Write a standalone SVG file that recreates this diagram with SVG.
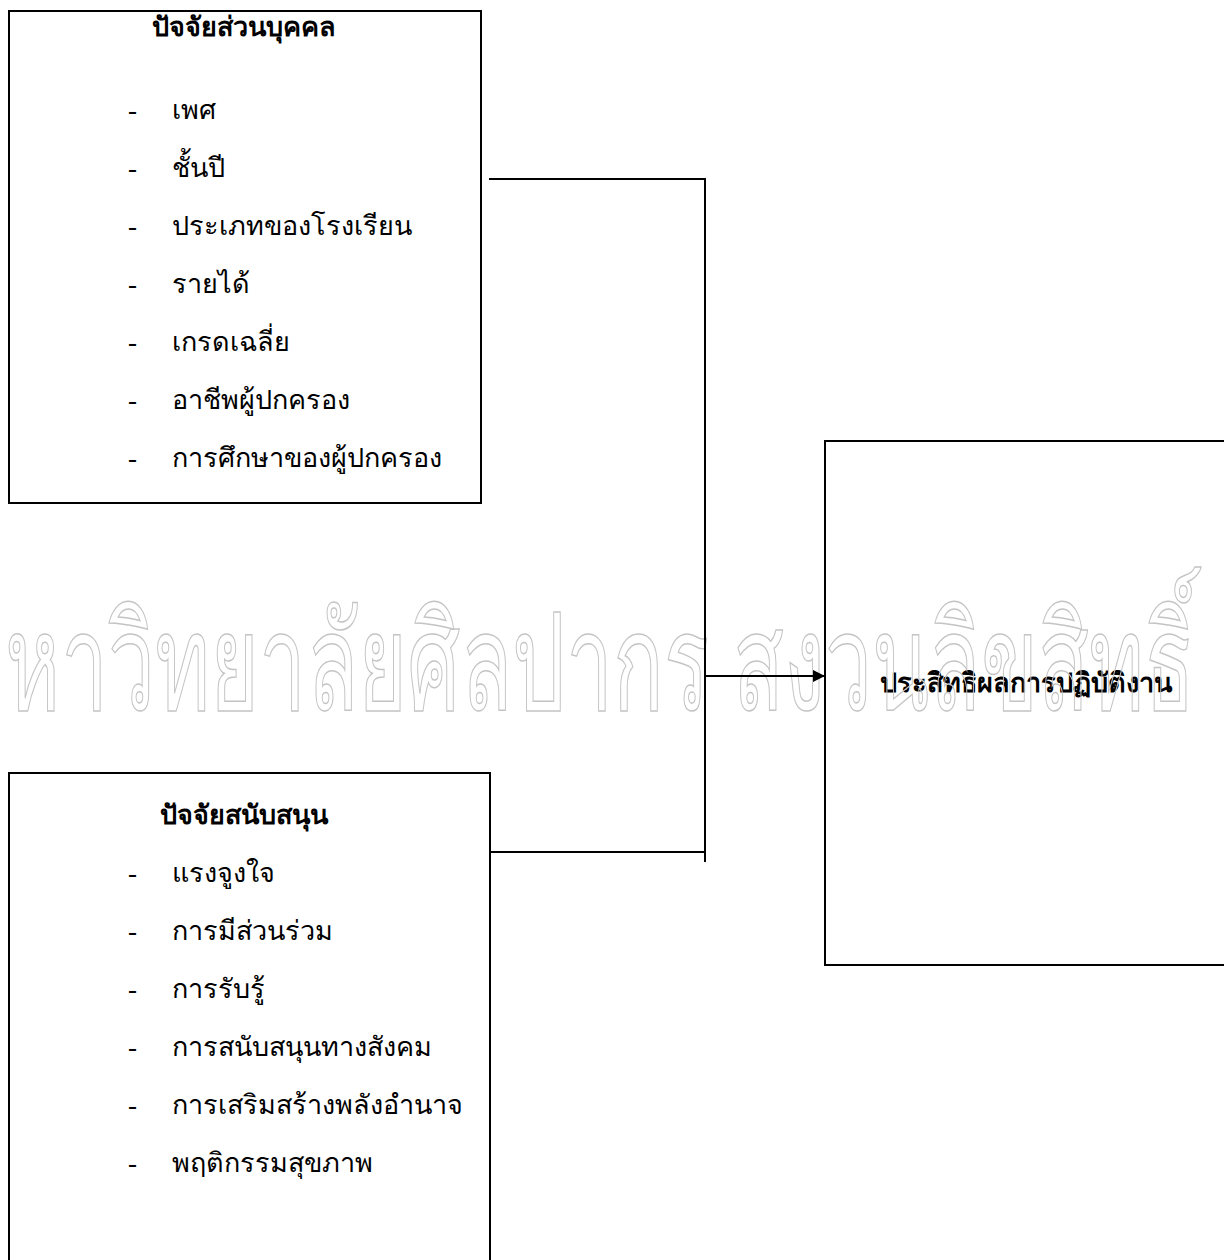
<svg xmlns="http://www.w3.org/2000/svg" width="1224" height="1260" viewBox="0 0 1224 1260">
<style>
.box{fill:#fff;stroke:#000;stroke-width:2}
.t{font-family:"Liberation Serif","Noto Sans","DejaVu Sans",serif;font-size:27px;fill:#000}
.b{font-weight:bold}
.wm{font-family:"Liberation Sans","Noto Sans","DejaVu Sans",sans-serif;font-size:135px;fill:none;stroke:#c4c4c4;stroke-width:1.5}
.c{fill:none;stroke:#000;stroke-width:2}
</style>
<defs>
<marker id="ah" viewBox="0 0 12 12" refX="12" refY="6" markerWidth="14" markerHeight="12" markerUnits="userSpaceOnUse" orient="auto"><path d="M0,0L12,6L0,12z" fill="#000"/></marker>
</defs>
<g id="n1">
<rect class="box" x="9" y="11" width="472" height="492"/>
<text class="t b" x="244" y="36" text-anchor="middle">ปัจจัยส่วนบุคคล</text>
<text class="t" x="128" y="119">-</text><text class="t" x="172" y="119">เพศ</text>
<text class="t" x="128" y="177">-</text><text class="t" x="172" y="177">ชั้นปี</text>
<text class="t" x="128" y="235">-</text><text class="t" x="172" y="235">ประเภทของโรงเรียน</text>
<text class="t" x="128" y="293">-</text><text class="t" x="172" y="293">รายได้</text>
<text class="t" x="128" y="351">-</text><text class="t" x="172" y="351">เกรดเฉลี่ย</text>
<text class="t" x="128" y="409">-</text><text class="t" x="172" y="409">อาชีพผู้ปกครอง</text>
<text class="t" x="128" y="467">-</text><text class="t" x="172" y="467">การศึกษาของผู้ปกครอง</text>
</g>
<g id="n2">
<rect class="box" x="9" y="773" width="481" height="500"/>
<text class="t b" x="244" y="824" text-anchor="middle">ปัจจัยสนับสนุน</text>
<text class="t" x="128" y="882">-</text><text class="t" x="172" y="882">แรงจูงใจ</text>
<text class="t" x="128" y="940">-</text><text class="t" x="172" y="940">การมีส่วนร่วม</text>
<text class="t" x="128" y="998">-</text><text class="t" x="172" y="998">การรับรู้</text>
<text class="t" x="128" y="1056">-</text><text class="t" x="172" y="1056">การสนับสนุนทางสังคม</text>
<text class="t" x="128" y="1114">-</text><text class="t" x="172" y="1114">การเสริมสร้างพลังอำนาจ</text>
<text class="t" x="128" y="1172">-</text><text class="t" x="172" y="1172">พฤติกรรมสุขภาพ</text>
</g>
<g id="n3">
<rect class="box" x="825" y="441" width="410" height="524"/>
<text class="t b" x="880" y="692">ประสิทธิผลการปฏิบัติงาน</text>
</g>
<text class="wm" x="-50" y="710" textLength="1245" lengthAdjust="spacingAndGlyphs">มหาวิทยาลัยศิลปากร สงวนลิขสิทธิ์</text>
<g id="connectors">
<path class="c" d="M489,179H705V862"/>
<path class="c" d="M490,852H705"/>
<path class="c" d="M705,676H825" marker-end="url(#ah)"/>
</g>
</svg>
